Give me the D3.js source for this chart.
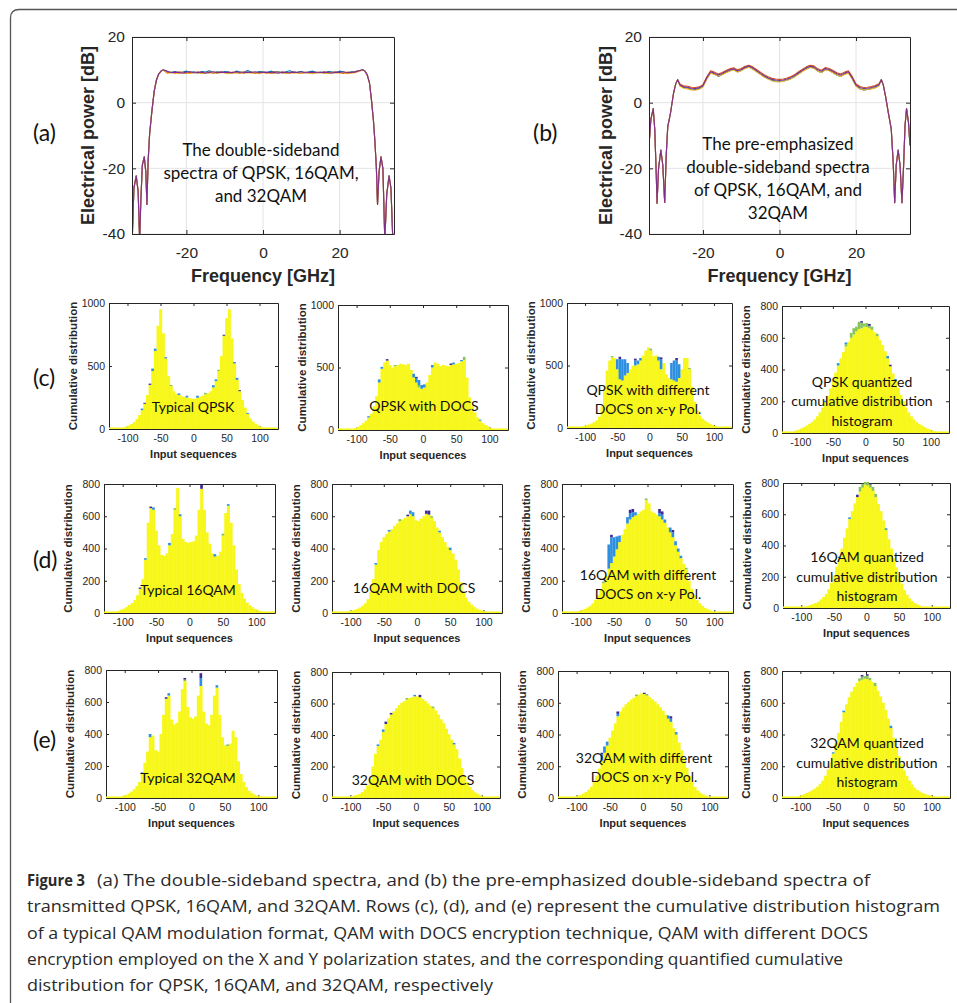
<!DOCTYPE html>
<html>
<head>
<meta charset="utf-8">
<script src="https://cdn.jsdelivr.net/npm/d3@7"></script>
<style>
  html, body { margin: 0; padding: 0; background: #fff; }
  svg { display: block; }
</style>
</head>
<body>
<svg id="fig" width="957" height="1003"></svg>
<script>
// ---- spectra (a) and (b) ----
const specXTicks = [-20, 0, 20];
const specYTicks = [-40, -20, 0, 20];

// (a) steep edges, same for every format
const aEdgeLF = [-34.2, -33.7, -33.1, -32.6, -32.2, -31.9, -31.5, -31.0, -30.6, -30.3, -30.0, -29.6, -29.0, -28.4, -27.8, -27.2, -26.6, -26.1];
const aEdgeLP = [-44, -26, -22.3, -27, -42, -30, -19, -16.5, -21, -31, -18, -9.5, -2.5, 3.5, 7.0, 8.8, 9.6, 10.0];
const aEdgeRF = [26.1, 26.6, 27.2, 27.8, 28.3, 28.8, 29.2, 29.6, 29.9, 30.3, 30.8, 31.3, 31.8, 32.3, 32.9, 33.4, 33.9, 34.2];
const aEdgeRP = [10.0, 9.6, 8.5, 6.0, 1.0, -5, -11.5, -20, -31, -21, -16.5, -20, -42, -28, -22.3, -26, -42, -44];
const aFlatF = [-25, -24, -23, -22, -21, -20, -19, -18, -17, -16, -15, -14, -13, -12, -11, -10, -9, -8, -7, -6,
  -5, -4, -3, -2, -1, 0, 1, 2, 3, 4, 5, 6, 7, 8, 9, 10, 11, 12, 13, 14, 15, 16, 17, 18, 19, 20, 21, 22, 23, 24, 25];
const aFlatBlue = [9.4, 9.2, 9.5, 9.1, 9.3, 9.6, 9.2, 9.4, 9.0, 9.5, 9.3, 9.7, 9.1, 9.4, 9.2, 9.5, 9.3, 9.0, 9.6, 9.4,
  9.2, 9.8, 9.3, 9.1, 9.5, 9.4, 9.2, 9.6, 9.3, 9.5, 9.0, 9.4, 9.7, 9.2, 9.3, 9.5, 9.1, 9.4, 9.6, 9.2,
  9.3, 9.0, 9.5, 9.4, 9.2, 9.6, 9.3, 9.1, 9.4, 9.5, 9.7];
const aFlatOrange = [9.1, 9.3, 9.0, 9.4, 9.2, 8.9, 9.3, 9.1, 9.4, 9.0, 9.2, 9.3, 9.0, 9.2, 9.4, 9.1, 8.9, 9.3, 9.2, 9.0,
  9.4, 9.1, 9.3, 8.9, 9.2, 9.3, 9.0, 9.2, 9.4, 9.1, 9.3, 9.2, 9.0, 9.4, 9.1, 8.9, 9.3, 9.2, 9.0, 9.3,
  9.1, 9.4, 9.0, 9.2, 9.3, 9.1, 8.9, 9.3, 9.2, 9.4, 9.6];
const aFlatYellow = [8.9, 9.2, 9.1, 8.8, 9.3, 9.0, 8.9, 9.2, 9.1, 8.8, 9.2, 9.0, 9.3, 8.9, 9.1, 9.2, 8.8, 9.1, 9.0, 9.3,
  8.9, 9.2, 9.0, 9.1, 8.8, 9.2, 9.1, 8.9, 9.0, 9.3, 9.1, 8.8, 9.2, 9.0, 9.1, 8.9, 9.2, 9.0, 8.8, 9.1,
  9.2, 9.0, 8.9, 9.3, 9.0, 9.1, 9.2, 8.8, 9.0, 9.1, 9.5];
const aFlatPurple = [9.6, 9.1, 9.3, 9.2, 9.0, 9.3, 9.4, 9.1, 9.2, 9.3, 9.0, 9.2, 9.4, 9.1, 9.3, 9.2, 9.3, 9.1, 9.4, 9.2,
  9.1, 9.3, 9.2, 9.4, 9.1, 9.2, 9.3, 9.1, 9.2, 9.0, 9.3, 9.2, 9.1, 9.3, 9.2, 9.4, 9.1, 9.2, 9.3, 9.1,
  9.2, 9.3, 9.2, 9.0, 9.3, 9.2, 9.4, 9.1, 9.2, 9.3, 9.7];

// (b) pre-emphasized
const bEdgeLF = [-34.1, -33.6, -33.0, -32.6, -32.2, -32.0, -31.6, -31.0, -30.5, -30.0, -29.6, -29.2, -28.5, -27.7, -27.1, -26.6];
const bEdgeLP = [-13, -5, -1.8, -8, -22, -30.6, -20, -14.4, -19, -30.4, -16, -7.3, -3.3, 2.8, 5.8, 7.0];
const bEdgeRF = [26.6, 27.1, 27.7, 28.5, 29.2, 29.7, 30.1, 30.5, 31.0, 31.5, 32.0, 32.4, 32.8, 33.2, 33.7, 34.1];
const bEdgeRP = [7.0, 5.5, 2.0, -3.5, -8, -18, -30.5, -19, -14.4, -19, -30.5, -20, -7, -1.8, -6, -13];
const bMidF = [-26, -25, -24, -23, -22, -21, -20, -19, -18, -17, -16, -15, -14, -13, -12, -11, -10, -9, -8, -7,
  -6, -5, -4, -3, -2, -1, 0, 1, 2, 3, 4, 5, 6, 7, 8, 9, 10, 11, 12, 13, 14, 15, 16, 17, 18, 19, 20, 21, 22, 23, 24, 25, 26];
const bMidBlue = [5.2, 4.6, 4.5, 4.1, 4.0, 4.3, 5.0, 7.3, 9.1, 8.7, 8.0, 8.6, 9.2, 9.7, 10.1, 9.4, 9.8, 10.6, 10.9, 10.3,
  9.5, 8.7, 7.9, 7.3, 6.8, 6.6, 6.5, 6.6, 6.9, 7.4, 8.0, 8.8, 9.6, 10.3, 10.8, 10.6, 9.6, 9.2, 10.1, 9.8,
  9.1, 8.4, 8.0, 8.7, 9.1, 7.3, 5.1, 4.2, 3.9, 4.0, 4.3, 4.6, 5.3];
const bMidOrange = [5.7, 5.1, 5.0, 4.7, 4.6, 4.8, 5.5, 7.9, 9.7, 9.3, 8.7, 9.2, 9.8, 10.3, 10.6, 10.0, 10.4, 11.1, 11.4, 10.9,
  10.1, 9.3, 8.5, 7.9, 7.4, 7.2, 7.1, 7.2, 7.5, 8.0, 8.6, 9.4, 10.2, 10.9, 11.4, 11.2, 10.3, 9.9, 10.7, 10.4,
  9.8, 9.1, 8.7, 9.3, 9.7, 8.0, 5.7, 4.9, 4.6, 4.7, 4.9, 5.2, 5.8];
const bMidYellow = [5.0, 4.4, 4.2, 3.9, 3.8, 4.1, 4.8, 7.2, 9.0, 8.6, 8.1, 8.5, 9.1, 9.6, 10.0, 9.3, 9.7, 10.4, 10.8, 10.2,
  9.4, 8.6, 7.8, 7.2, 6.7, 6.4, 6.3, 6.5, 6.8, 7.3, 7.9, 8.7, 9.5, 10.2, 10.7, 10.5, 9.6, 9.2, 10.0, 9.7,
  9.1, 8.4, 8.0, 8.6, 9.0, 7.2, 5.0, 4.2, 3.9, 4.0, 4.2, 4.5, 5.1];
const bMidPurple = [5.4, 4.8, 4.7, 4.4, 4.3, 4.5, 5.2, 7.6, 9.4, 9.0, 8.4, 8.9, 9.5, 10.0, 10.3, 9.7, 10.1, 10.8, 11.2, 10.6,
  9.8, 9.0, 8.2, 7.6, 7.1, 6.9, 6.8, 6.9, 7.2, 7.7, 8.3, 9.1, 9.9, 10.6, 11.1, 10.9, 10.0, 9.6, 10.4, 10.1,
  9.5, 8.8, 8.4, 9.0, 9.4, 7.6, 5.4, 4.6, 4.3, 4.4, 4.6, 4.9, 5.5];

// ---- histograms (c)-(e) ----
const binCenters = [-126, -122, -118, -114, -110, -106, -102, -98, -94, -90, -86, -82, -78, -74, -70, -66,
  -62, -58, -54, -50, -46, -42, -38, -34, -30, -26, -22, -18, -14, -10, -6, -2,
  2, 6, 10, 14, 18, 22, 26, 30, 34, 38, 42, 46, 50, 54, 58, 62,
  66, 70, 74, 78, 82, 86, 90, 94, 98, 102, 106, 110, 114, 118, 122, 126];
const histXTicks = [-100, -50, 0, 50, 100];
const histYTicks1000 = [0, 500, 1000];
const histYTicks800 = [0, 200, 400, 600, 800];

const c1Yellow = [0, 0, 0, 2, 6, 12, 20, 28, 40, 55, 80, 110, 150, 200, 270, 350,
  460, 620, 820, 950, 760, 560, 420, 340, 300, 280, 270, 260, 255, 250, 245, 240,
  240, 248, 258, 265, 275, 285, 300, 330, 380, 460, 580, 740, 880, 950, 720, 520,
  390, 300, 230, 170, 120, 85, 60, 42, 28, 18, 10, 5, 2, 0, 0, 0];
const c2Yellow = [0, 0, 0, 1, 3, 8, 15, 25, 38, 55, 75, 100, 130, 190, 270, 380,
  490, 540, 555, 520, 500, 510, 520, 530, 525, 520, 530, 480, 420, 380, 340, 330,
  340, 380, 440, 500, 540, 530, 510, 520, 515, 510, 520, 525, 530, 535, 550, 560,
  420, 260, 190, 140, 100, 75, 55, 40, 28, 15, 8, 3, 1, 0, 0, 0];
const c3Yellow = [0, 0, 2, 4, 8, 12, 16, 22, 28, 36, 48, 62, 90, 170, 300, 460,
  540, 565, 560, 470, 390, 380, 420, 440, 470, 500, 500, 510, 540, 580, 620, 645,
  620, 575, 580, 540, 470, 520, 430, 400, 390, 380, 370, 400, 470, 560, 560, 470,
  330, 210, 140, 100, 75, 58, 45, 32, 24, 16, 10, 6, 3, 1, 0, 0];
const c4Yellow = [0, 1, 3, 6, 10, 16, 22, 30, 38, 48, 58, 70, 85, 105, 130, 160,
  195, 235, 280, 330, 380, 425, 470, 510, 545, 575, 600, 620, 640, 655, 660, 670,
  668, 660, 650, 635, 610, 585, 555, 515, 470, 420, 375, 330, 285, 240, 200, 160,
  130, 105, 85, 70, 58, 48, 38, 30, 22, 16, 10, 6, 3, 1, 0, 0];
const d1Yellow = [0, 2, 4, 6, 10, 14, 20, 28, 38, 50, 62, 80, 110, 150, 210, 330,
  560, 650, 640, 510, 420, 360, 355, 370, 420, 490, 640, 775, 600, 460, 440, 435,
  440, 445, 480, 640, 770, 640, 500, 430, 370, 350, 355, 380, 480, 620, 665, 560,
  420, 270, 180, 125, 90, 65, 48, 36, 26, 18, 12, 8, 5, 3, 1, 0];
const d2Yellow = [0, 1, 2, 3, 5, 8, 12, 16, 20, 26, 34, 45, 60, 85, 130, 210,
  300, 390, 440, 470, 490, 505, 520, 540, 555, 570, 580, 590, 600, 615, 600, 575,
  570, 585, 600, 615, 610, 590, 570, 530, 500, 470, 440, 410, 390, 370, 330, 270,
  190, 130, 95, 70, 52, 38, 28, 20, 14, 10, 6, 4, 2, 1, 0, 0];
const d3Yellow = [0, 1, 2, 4, 6, 9, 13, 18, 25, 34, 45, 60, 82, 110, 145, 185,
  230, 275, 310, 350, 395, 440, 485, 520, 555, 580, 595, 605, 615, 630, 640, 700,
  680, 630, 620, 610, 600, 580, 560, 530, 500, 470, 420, 380, 340, 305, 270, 200,
  150, 110, 80, 60, 44, 32, 23, 16, 11, 7, 4, 3, 2, 1, 0, 0];
const d4Yellow = [2, 3, 3, 4, 5, 6, 7, 8, 10, 14, 20, 26, 32, 40, 55, 70,
  90, 120, 160, 210, 265, 320, 380, 450, 510, 570, 620, 670, 710, 745, 770, 790,
  785, 770, 750, 710, 665, 620, 560, 500, 440, 380, 320, 260, 200, 155, 115, 85,
  62, 45, 32, 22, 15, 10, 8, 6, 5, 4, 4, 3, 3, 2, 2, 2];
const e1Yellow = [0, 1, 2, 4, 6, 9, 14, 20, 28, 40, 55, 75, 100, 150, 220, 290,
  380, 390, 300, 290, 400, 520, 620, 640, 490, 460, 470, 540, 680, 730, 570, 505,
  495, 510, 640, 700, 540, 465, 455, 520, 640, 690, 520, 380, 330, 325, 340, 420,
  380, 230, 150, 100, 68, 45, 32, 22, 15, 10, 6, 4, 2, 1, 0, 0];
const e2Yellow = [0, 0, 1, 2, 4, 6, 9, 12, 16, 20, 26, 38, 55, 80, 120, 200,
  280, 330, 370, 420, 470, 505, 530, 550, 570, 590, 605, 615, 625, 635, 640, 645,
  645, 640, 630, 615, 600, 585, 570, 555, 530, 500, 475, 440, 405, 370, 340, 310,
  250, 190, 140, 100, 70, 50, 36, 26, 16, 10, 5, 2, 1, 0, 0, 0];
const e3Yellow = [0, 1, 2, 3, 4, 6, 9, 14, 20, 28, 38, 52, 70, 100, 140, 185,
  235, 285, 330, 380, 425, 470, 515, 545, 570, 590, 605, 620, 632, 642, 650, 660,
  655, 645, 635, 622, 608, 590, 572, 550, 525, 500, 480, 440, 400, 350, 300, 250,
  190, 140, 100, 70, 48, 34, 24, 16, 10, 6, 4, 2, 1, 0, 0, 0];
const e4Yellow = [0, 1, 2, 3, 5, 8, 12, 18, 25, 32, 40, 50, 60, 72, 90, 110,
  140, 180, 225, 280, 345, 410, 480, 540, 590, 635, 670, 700, 725, 738, 745, 752,
  750, 742, 730, 705, 675, 640, 600, 555, 500, 440, 380, 320, 265, 215, 175, 140,
  110, 85, 65, 50, 40, 32, 25, 20, 15, 11, 8, 5, 3, 2, 1, 0];

// counts of the other runs that stick out above the yellow one: [bin centre, extra count]
const c1Green = [[-34, 10], [18, 12], [38, 10]];
const c1Blue = [[-78, 12], [-62, 20], [-58, 18], [-42, 10], [-22, 12], [-10, 14], [6, 16], [30, 18], [34, 14], [62, 12], [66, 16], [82, 8]];
const c1Navy = [[-74, 8], [-66, 10], [46, 8], [70, 8]];
const c2Green = [[-6, 20], [62, 25], [-42, 10]];
const c2Blue = [[-82, 10], [-66, 25], [-62, 15], [-14, 30], [-10, 35], [-6, 40], [-2, 30], [2, 25], [14, 20], [46, 15], [58, 10], [86, 8]];
const c2Navy = [[-54, 12], [-10, 10], [42, 12]];
const c3Green = [[-58, 10], [2, 15], [62, 10]];
const c3Blue = [[-50, 80], [-46, 160], [-42, 170], [-38, 130], [-34, 80], [-22, 40], [-18, 30], [-14, 20], [14, 30], [18, 80], [34, 130], [38, 160], [42, 170], [46, 110]];
const c3Navy = [[-46, 20], [-22, 15], [18, 15], [42, 20]];
const c4Green = [[-30, 15], [-22, 30], [-18, 40], [-14, 30], [-10, 45], [-6, 35], [-2, 20], [2, 25], [6, 15], [10, 20], [18, 15]];
const c4Blue = [[-62, 8], [-42, 15], [-30, 10], [34, 15], [46, 10]];
const c4Navy = [[-6, 10], [6, 12], [38, 10]];
const d1Green = [[-22, 10], [50, 12]];
const d1Blue = [[-66, 10], [-54, 15], [-30, 15], [-14, 12], [38, 15], [58, 10]];
const d1Navy = [[-74, 8], [-58, 10], [18, 25]];
const d2Green = [[-26, 12], [22, 10]];
const d2Blue = [[-62, 10], [-42, 10], [-10, 20], [-6, 25], [34, 10], [50, 15]];
const d2Navy = [[-14, 10], [14, 20], [18, 25]];
const d3Green = [[-66, 10], [-2, 10], [58, 10]];
const d3Blue = [[-58, 150], [-54, 160], [-50, 120], [-46, 80], [-42, 40], [-30, 40], [-26, 40], [-22, 30], [-18, 20],
  [18, 20], [22, 30], [26, 20], [34, 30], [38, 30], [42, 25], [46, 20], [50, 15]];
const d3Navy = [[-54, 15], [-26, 20], [-22, 20], [18, 25], [22, 20], [38, 15]];
const d4Green = [[-10, 30], [-6, 25], [-2, 20], [2, 25], [6, 20], [10, 25], [14, 20]];
const d4Blue = [[-42, 8], [-26, 10], [30, 10]];
const d4Navy = [[-14, 15], [-2, 10], [6, 8]];
const e1Green = [[-10, 10], [54, 10]];
const e1Blue = [[-74, 10], [-62, 20], [-34, 15], [14, 50], [38, 15]];
const e1Navy = [[-38, 10], [-10, 10], [14, 30]];
const e2Green = [[-14, 10], [26, 10]];
const e2Blue = [[-58, 10], [-50, 15], [-2, 10], [58, 10]];
const e2Navy = [[-46, 15], [-38, 10], [6, 15]];
const e3Green = [[-10, 10], [6, 10]];
const e3Blue = [[-62, 40], [-58, 40], [-54, 25], [-38, 15], [38, 20], [42, 20], [50, 15]];
const e3Navy = [[-62, 10], [-38, 15], [2, 8], [42, 15]];
const e4Green = [[-10, 15], [-6, 20], [-2, 15], [2, 20], [6, 15], [14, 20]];
const e4Blue = [[-50, 8], [-34, 10], [38, 15]];
const e4Navy = [[-6, 10], [2, 10]];

const captionLines = [
  "(a) The double-sideband spectra, and (b) the pre-emphasized double-sideband spectra of",
  "transmitted QPSK, 16QAM, and 32QAM. Rows (c), (d), and (e) represent the cumulative distribution histogram",
  "of a typical QAM modulation format, QAM with DOCS encryption technique, QAM with different DOCS",
  "encryption employed on the X and Y polarization states, and the corresponding quantified cumulative",
  "distribution for QPSK, 16QAM, and 32QAM, respectively"
];

// ---- styling ----
const INK = "#262626";
const AXIS_FONT = '"Liberation Sans", Arial, sans-serif';
const NOTE_FONT = 'Lato, "Open Sans", sans-serif';
const LINE_COLORS = ["#0072bd", "#d95319", "#edb120", "#7e2f8e"];
const HIST_COLORS = { yellow: "#f7f71b", green: "#86c35b", blue: "#2e8fe0", navy: "#3b2b96" };

const svg = d3.select("#fig");
svg.append("rect").attr("width", 957).attr("height", 1003).attr("fill", "#fff");

// frame of the figure box
svg.append("path")
  .attr("d", "M10.5,1003 V18 Q10.5,9.5 19,9.5 H957")
  .attr("fill", "none")
  .attr("stroke", "#555")
  .attr("stroke-width", 1.3);

function drawAxes(g, x, y, box, xTicks, yTicks, o) {
  const [left, top, w, h] = box;
  const style = sel => {
    sel.attr("font-family", AXIS_FONT).attr("font-size", o.fs);
    sel.select(".domain").attr("stroke", INK);
    sel.selectAll(".tick line").attr("stroke", INK);
    sel.selectAll(".tick text").attr("fill", INK);
  };
  g.append("g").attr("transform", `translate(0,${top + h})`)
    .call(d3.axisBottom(x).tickValues(xTicks).tickSizeInner(-o.tick).tickSizeOuter(0)
      .tickPadding(o.xPad).tickFormat(d => String(d)))
    .call(style);
  g.append("g").attr("transform", `translate(0,${top})`)
    .call(d3.axisTop(x).tickValues(xTicks).tickSizeInner(-o.tick).tickSizeOuter(0).tickFormat(""))
    .call(style);
  g.append("g").attr("transform", `translate(${left},0)`)
    .call(d3.axisLeft(y).tickValues(yTicks).tickSizeInner(-o.tick).tickSizeOuter(0)
      .tickPadding(o.yPad).tickFormat(d => String(d)))
    .call(style);
  g.append("g").attr("transform", `translate(${left + w},0)`)
    .call(d3.axisRight(y).tickValues(yTicks).tickSizeInner(-o.tick).tickSizeOuter(0).tickFormat(""))
    .call(style);
}

function noteText(g, note, fs, gap) {
  g.append("text")
    .attr("font-family", NOTE_FONT)
    .attr("font-size", fs)
    .attr("fill", "#111")
    .attr("text-anchor", "middle")
    .selectAll("tspan")
    .data(note.lines)
    .join("tspan")
    .attr("x", note.x)
    .attr("y", (d, i) => note.y + i * gap + fs * 0.35)
    .text(d => d);
}

function panelLabel(text, x, y) {
  svg.append("text")
    .attr("x", x).attr("y", y)
    .attr("font-family", NOTE_FONT)
    .attr("font-size", 23)
    .attr("fill", "#111")
    .text(text);
}

// ---- spectra ----
const spectra = [
  {
    id: "a", box: [132, 37, 262, 197], xDomain: [-34.2, 34.2],
    freq: [...aEdgeLF, ...aFlatF, ...aEdgeRF],
    series: [aFlatBlue, aFlatOrange, aFlatYellow, aFlatPurple].map(f => [...aEdgeLP, ...f, ...aEdgeRP]),
    label: { text: "(a)", x: 33, y: 141 }, yLabelX: 88,
    note: { x: 261, y: 150, lines: ["The double-sideband", "spectra of QPSK, 16QAM,", "and 32QAM"] }
  },
  {
    id: "b", box: [649, 37, 261, 197], xDomain: [-34.1, 34.1],
    freq: [...bEdgeLF, ...bMidF, ...bEdgeRF],
    series: [bMidBlue, bMidOrange, bMidYellow, bMidPurple].map(f => [...bEdgeLP, ...f, ...bEdgeRP]),
    label: { text: "(b)", x: 533, y: 141 }, yLabelX: 606,
    note: { x: 778, y: 144, lines: ["The pre-emphasized", "double-sideband spectra", "of QPSK, 16QAM, and", "32QAM"] }
  }
];

function drawSpectrum(p) {
  const [left, top, w, h] = p.box;
  const x = d3.scaleLinear().domain(p.xDomain).range([left, left + w]);
  const y = d3.scaleLinear().domain([-40, 20]).range([top + h, top]);
  const g = svg.append("g");

  g.append("g").selectAll("line").data(specXTicks).join("line")
    .attr("x1", d => x(d)).attr("x2", d => x(d)).attr("y1", top).attr("y2", top + h)
    .attr("stroke", "#e4e4e4");
  g.append("g").selectAll("line").data(specYTicks).join("line")
    .attr("x1", left).attr("x2", left + w).attr("y1", d => y(d)).attr("y2", d => y(d))
    .attr("stroke", "#e4e4e4");

  g.append("clipPath").attr("id", `clip-${p.id}`)
    .append("rect").attr("x", left).attr("y", top).attr("width", w).attr("height", h);

  const line = d3.line().x((d, i) => x(p.freq[i])).y(d => y(d));
  g.append("g").attr("clip-path", `url(#clip-${p.id})`)
    .selectAll("path").data(p.series).join("path")
    .attr("d", line)
    .attr("fill", "none")
    .attr("stroke", (d, i) => LINE_COLORS[i])
    .attr("stroke-width", 1.1)
    .attr("stroke-linejoin", "round");

  drawAxes(g, x, y, p.box, specXTicks, specYTicks, { fs: 15.5, tick: 4, xPad: 13, yPad: 7 });

  g.append("text")
    .attr("transform", `translate(${p.yLabelX + 6.3},${top + h / 2}) rotate(-90)`)
    .attr("text-anchor", "middle")
    .attr("font-family", AXIS_FONT).attr("font-weight", "bold").attr("font-size", 18)
    .attr("fill", INK)
    .text("Electrical power [dB]");
  g.append("text")
    .attr("x", left + w / 2).attr("y", 282)
    .attr("text-anchor", "middle")
    .attr("font-family", AXIS_FONT).attr("font-weight", "bold").attr("font-size", 18)
    .attr("fill", INK)
    .text("Frequency [GHz]");

  noteText(g, p.note, 17, 23);
  panelLabel(p.label.text, p.label.x, p.label.y);
}

spectra.forEach(drawSpectrum);

// ---- histograms ----
const histPanels = [
  { id: "c1", box: [109, 303, 169, 126], yTicks: histYTicks1000, yellow: c1Yellow, green: c1Green, blue: c1Blue, navy: c1Navy,
    note: { x: 193, y: 407, lines: ["Typical QPSK"] } },
  { id: "c2", box: [338, 305, 170, 125], yTicks: histYTicks1000, yellow: c2Yellow, green: c2Green, blue: c2Blue, navy: c2Navy,
    note: { x: 424, y: 406, lines: ["QPSK with DOCS"] } },
  { id: "c3", box: [567, 303, 165, 125], yTicks: histYTicks1000, yellow: c3Yellow, green: c3Green, blue: c3Blue, navy: c3Navy,
    note: { x: 648, y: 390, lines: ["QPSK with different", "DOCS on x-y Pol."] } },
  { id: "c4", box: [782, 306, 167, 127], yTicks: histYTicks800, yellow: c4Yellow, green: c4Green, blue: c4Blue, navy: c4Navy,
    note: { x: 862, y: 381.7, lines: ["QPSK quantized", "cumulative distribution", "histogram"] } },
  { id: "d1", box: [104, 484, 171, 129], yTicks: histYTicks800, yellow: d1Yellow, green: d1Green, blue: d1Blue, navy: d1Navy,
    note: { x: 188, y: 590, lines: ["Typical 16QAM"] } },
  { id: "d2", box: [332, 484, 170, 129], yTicks: histYTicks800, yellow: d2Yellow, green: d2Green, blue: d2Blue, navy: d2Navy,
    note: { x: 414, y: 588, lines: ["16QAM with DOCS"] } },
  { id: "d3", box: [562, 484, 171, 129], yTicks: histYTicks800, yellow: d3Yellow, green: d3Green, blue: d3Blue, navy: d3Navy,
    note: { x: 648, y: 575, lines: ["16QAM with different", "DOCS on x-y Pol."] } },
  { id: "d4", box: [783, 483, 167, 125], yTicks: histYTicks800, yellow: d4Yellow, green: d4Green, blue: d4Blue, navy: d4Navy,
    note: { x: 867, y: 557.3, lines: ["16QAM quantized", "cumulative distribution", "histogram"] } },
  { id: "e1", box: [106, 670, 171, 128], yTicks: histYTicks800, yellow: e1Yellow, green: e1Green, blue: e1Blue, navy: e1Navy,
    note: { x: 188, y: 778, lines: ["Typical 32QAM"] } },
  { id: "e2", box: [332, 672, 168, 126], yTicks: histYTicks800, yellow: e2Yellow, green: e2Green, blue: e2Blue, navy: e2Navy,
    note: { x: 413, y: 780, lines: ["32QAM with DOCS"] } },
  { id: "e3", box: [558, 671, 170, 127], yTicks: histYTicks800, yellow: e3Yellow, green: e3Green, blue: e3Blue, navy: e3Navy,
    note: { x: 644, y: 757.7, lines: ["32QAM with different", "DOCS on x-y Pol."] } },
  { id: "e4", box: [782, 671, 168, 127], yTicks: histYTicks800, yellow: e4Yellow, green: e4Green, blue: e4Blue, navy: e4Navy,
    note: { x: 867, y: 743.3, lines: ["32QAM quantized", "cumulative distribution", "histogram"] } }
];

function drawHist(p) {
  const [left, top, w, h] = p.box;
  const yMax = d3.max(p.yTicks);
  const x = d3.scaleLinear().domain([-128, 128]).range([left, left + w]);
  const y = d3.scaleLinear().domain([0, yMax]).range([top + h, top]);
  const g = svg.append("g");

  drawAxes(g, x, y, p.box, histXTicks, p.yTicks, { fs: 10.5, tick: 3, xPad: 6, yPad: 4 });

  g.append("clipPath").attr("id", `clip-${p.id}`)
    .append("rect").attr("x", left).attr("y", top - 1).attr("width", w).attr("height", h + 1);
  const bars = g.append("g").attr("clip-path", `url(#clip-${p.id})`);

  const halfBin = 2;
  const level = new Map(binCenters.map((c, i) => [c, p.yellow[i]]));

  bars.append("g").selectAll("rect")
    .data(binCenters.map((c, i) => ({ c, v: p.yellow[i] })))
    .join("rect")
    .attr("x", d => x(d.c - halfBin))
    .attr("width", d => x(d.c + halfBin) - x(d.c - halfBin) + 0.4)
    .attr("y", d => Math.min(y(d.v), y(0) - 1.5))
    .attr("height", d => Math.max(1.5, y(0) - y(d.v)))
    .attr("fill", HIST_COLORS.yellow);

  // other runs stacked on top where they exceed the yellow one
  [["green", p.green], ["blue", p.blue], ["navy", p.navy]].forEach(([key, extras]) => {
    const segs = extras.map(([c, v]) => {
      const b = level.get(c);
      level.set(c, b + v);
      return { c, y0: b, y1: b + v };
    });
    bars.append("g").selectAll("rect").data(segs).join("rect")
      .attr("x", d => x(d.c - halfBin))
      .attr("width", d => x(d.c + halfBin) - x(d.c - halfBin))
      .attr("y", d => y(d.y1))
      .attr("height", d => y(d.y0) - y(d.y1))
      .attr("fill", HIST_COLORS[key]);
  });

  g.append("text")
    .attr("transform", `translate(${left - 32},${top + h / 2}) rotate(-90)`)
    .attr("text-anchor", "middle")
    .attr("font-family", AXIS_FONT).attr("font-weight", "bold").attr("font-size", 11.5)
    .attr("fill", INK)
    .text("Cumulative distribution");
  g.append("text")
    .attr("x", left + w / 2).attr("y", top + h + 28.5)
    .attr("text-anchor", "middle")
    .attr("font-family", AXIS_FONT).attr("font-weight", "bold").attr("font-size", 11)
    .attr("fill", INK)
    .text("Input sequences");

  noteText(g, p.note, 14, 19.5);
}

histPanels.forEach(drawHist);

panelLabel("(c)", 33, 386);
panelLabel("(d)", 33, 568);
panelLabel("(e)", 33, 748);

// ---- caption ----
const caption = svg.append("g")
  .attr("font-family", '"Liberation Sans Narrow", "Open Sans", sans-serif')
  .attr("font-size", 16.5)
  .attr("fill", "#2a2a2a");
caption.append("text")
  .attr("x", 27).attr("y", 886)
  .attr("font-weight", "bold")
  .attr("textLength", 58).attr("lengthAdjust", "spacingAndGlyphs")
  .text("Figure 3");
const captionBase = [886, 912, 939, 965, 991];
const captionStart = [97, 27, 27, 27, 27];
const captionEnd = [870, 940, 868, 843, 493];
caption.selectAll("text.line").data(captionLines).join("text")
  .attr("class", "line")
  .attr("x", (d, i) => captionStart[i])
  .attr("y", (d, i) => captionBase[i])
  .attr("textLength", (d, i) => captionEnd[i] - captionStart[i])
  .attr("lengthAdjust", "spacingAndGlyphs")
  .text(d => d);
</script>
</body>
</html>
